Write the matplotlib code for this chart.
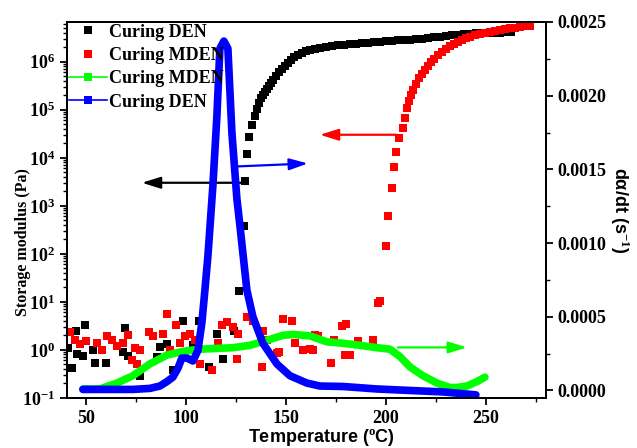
import numpy as np
import matplotlib
matplotlib.use('Agg')
import matplotlib.pyplot as plt
from matplotlib.ticker import MultipleLocator, LogLocator, FuncFormatter, NullFormatter
from matplotlib.lines import Line2D

plt.rcParams['font.family'] = 'Liberation Serif'
plt.rcParams['font.weight'] = 'bold'
plt.rcParams['mathtext.fontset'] = 'custom'
plt.rcParams['mathtext.rm'] = 'Liberation Serif:bold'
plt.rcParams['mathtext.bf'] = 'Liberation Serif:bold'
plt.rcParams['mathtext.it'] = 'Liberation Serif:bold:italic'
plt.rcParams['mathtext.default'] = 'bf'

# storage modulus, Curing DEN (temperature, log10 of modulus in Pa)
den_T = [41, 43, 45, 45.5, 48.5, 49.5, 53.5, 54.5, 60, 68.5, 69.5, 71, 77, 85.5,
         87, 90.5, 93.5, 98.5, 103.5, 106.5, 111.5, 115.5, 118.5, 124, 126.5, 129,
         129.5, 130.5, 131.5, 133, 134.5, 135.5, 136.5, 137.5, 138.5, 139.5, 140.5,
         141.5, 142.5, 143.5, 145, 146.5, 148, 149.5, 151, 152.5, 154, 156, 158,
         160, 162, 164.5, 167, 170, 173, 176, 179, 182, 185, 188, 191, 194, 197,
         200, 203, 206, 209, 212, 215, 218, 221, 224, 227, 230, 233, 236, 239,
         242, 245, 248, 251, 254, 257, 260, 262.5]
den_logE = [0.03, -0.37, 0.40, -0.08, -0.12, 0.51, 0.0, -0.27, -0.27, -0.04, 0.45,
            -0.12, -0.54, -0.14, 0.05, 0.13, -0.43, 0.61, 0.09, 0.61, -0.35, 0.32,
            -0.2, 0.40, 1.22, 2.58, 3.51, 4.07, 4.44, 4.69, 4.88, 5.01, 5.14, 5.24,
            5.31, 5.38, 5.44, 5.50, 5.56, 5.62, 5.70, 5.79, 5.86, 5.92, 5.98, 6.04,
            6.09, 6.14, 6.19, 6.22, 6.25, 6.27, 6.29, 6.31, 6.32, 6.34, 6.35, 6.37,
            6.38, 6.39, 6.40, 6.41, 6.42, 6.43, 6.44, 6.45, 6.45, 6.46, 6.47, 6.48,
            6.50, 6.51, 6.52, 6.54, 6.55, 6.56, 6.57, 6.58, 6.59, 6.60, 6.60, 6.61,
            6.61, 6.62, 6.62]

# storage modulus, Curing MDEN
mden_T = [42, 44.5, 47, 50, 55.5, 58, 60.5, 63, 65.5, 68.5, 71, 73, 74.5, 75.5, 77,
          81.5, 83.5, 88.5, 90.5, 92, 95, 97, 99.5, 102, 104.5, 107, 113, 116, 118,
          120.5, 123.5, 125.5, 126, 130.5, 133.5, 138, 138.5, 140.5, 145.5, 146.5,
          148.5, 153, 154.5, 158.5, 162, 163.5, 164.5, 166, 172.5, 174, 178, 179.5,
          180, 182, 186, 193.5, 196, 197, 200, 201, 203, 204, 205, 206.5, 208.5,
          209.5, 210.5, 211.5, 212.5, 213.5, 215, 216.5, 218, 219.5, 221, 222.5,
          224, 226, 228, 230, 232, 234, 236, 238, 240, 242, 244.5, 247, 249.5, 252,
          254.5, 257, 259.5, 262, 264.5, 267, 269.5, 272]
mden_logE = [0.38, 0.2, 0.13, 0.18, 0.15, 0.0, 0.28, 0.2, 0.08, 0.15, 0.3, -0.22,
             0.04, -0.3, 0.0, 0.38, 0.28, 0.32, 0.74, 0.0, 0.51, 0.15, 0.28, 0.32,
             0.2, -0.3, -0.43, 0.15, 0.51, 0.58, 0.48, -0.19, 0.32, 0.69, 0.61,
             -0.35, 0.40, 0.2, -0.07, -0.05, 0.65, 0.59, 0.15, 0.0, 0.02, 0.0, 0.3,
             0.28, -0.27, 0.2, 0.49, -0.1, 0.54, -0.1, 0.18, 0.2, 0.98, 1.02, 2.17,
             2.79, 3.37, 3.81, 4.13, 4.42, 4.63, 4.83, 5.04, 5.18, 5.30, 5.42, 5.54,
             5.66, 5.75, 5.83, 5.92, 5.99, 6.06, 6.14, 6.21, 6.27, 6.32, 6.37, 6.41,
             6.45, 6.49, 6.52, 6.55, 6.57, 6.59, 6.62, 6.64, 6.66, 6.68, 6.70, 6.71,
             6.73, 6.74, 6.75]

# curing rate, MDEN (right axis)
rate_mden_T = [48.5, 57, 65.5, 73.5, 82, 90.5, 98.5, 107, 115.5, 123.5, 132, 140.5,
               148.5, 153.5, 162, 170.5, 178.5, 187, 195.5, 202, 207, 212, 218.5,
               225.5, 232, 235.5, 240.5, 245.5, 249.5]
rate_mden = [0.00001, 0.00001, 0.00005, 0.0001, 0.00018, 0.00024, 0.000265, 0.00028,
             0.000285, 0.00029, 0.000306, 0.00034, 0.000374, 0.00038, 0.00037,
             0.00033, 0.00032, 0.000306, 0.00029, 0.00028, 0.00023, 0.00016, 0.0001,
             0.00005, 0.00002, 0.00002, 0.00003, 0.00006, 0.00009]

# curing rate, DEN (right axis)
rate_den_T = [48.5, 60, 73.5, 82, 87, 90.5, 93.5, 96, 98, 100.5, 103.5, 106, 108,
              109.5, 111, 113.5, 115.5, 117, 119, 121, 123, 125.5, 127, 130.5, 133.5,
              138.5, 145.5, 152, 160.5, 167, 178.5, 195.5, 212, 228.5, 245]
rate_den = [0.000007, 0.000007, 0.000007, 0.000014, 0.00003, 0.00006, 0.00009,
            0.00015, 0.00022, 0.00022, 0.0002, 0.00027, 0.00046, 0.00068, 0.00091,
            0.00139, 0.00186, 0.00232, 0.00237, 0.00232, 0.00175, 0.0013, 0.00112,
            0.00068, 0.0005, 0.00032, 0.00018, 0.0001, 0.00005, 0.00003, 0.000027,
            0.00001, 0.0, -0.00001, -0.00003]

legend_labels = ['Curing DEN', 'Curing MDEN', 'Curing MDEN', 'Curing DEN']


def log_label(v, pos):
    return '$10^{%d}$' % int(round(np.log10(v)))


fig = plt.figure(figsize=(6.37, 4.48), dpi=100)
ax = fig.add_axes([0.105, 0.112, 0.752, 0.839])
ax2 = ax.twinx()

ax.plot(den_T, 10 ** np.array(den_logE), 's', color='black', ms=5.5, mew=0)
ax.plot(mden_T, 10 ** np.array(mden_logE), 's', color='red', ms=5.5, mew=0)

ax2.plot(rate_mden_T, rate_mden, '-', color='#00ff00', lw=5.5, solid_capstyle='round')
ax2.plot(rate_den_T, rate_den, '-', color='blue', lw=5.5, solid_capstyle='round')

arrow = dict(arrowstyle='-|>,head_length=0.8,head_width=0.25', lw=1.6,
             mutation_scale=14, shrinkA=0, shrinkB=0)
ax.annotate('', xy=(78, 10 ** 3.48), xytext=(129.5, 10 ** 3.48),
            arrowprops=dict(arrow, color='black'))
ax.annotate('', xy=(167, 10 ** 4.48), xytext=(205.5, 10 ** 4.48),
            arrowprops=dict(arrow, color='red'))
ax2.annotate('', xy=(161, 0.00154), xytext=(126, 0.00152),
             arrowprops=dict(arrow, color='blue'))
ax2.annotate('', xy=(240.5, 0.000292), xytext=(206, 0.000292),
             arrowprops=dict(arrow, color='#00ff00'))

ax.set_xlim(40.5, 280)
ax.set_yscale('log')
ax.set_ylim(0.1, 10 ** 6.83)
ax2.set_ylim(-0.00005, 0.0025)

ax.xaxis.set_major_locator(MultipleLocator(50))
ax.xaxis.set_minor_locator(MultipleLocator(25))
ax.yaxis.set_major_locator(LogLocator(base=10, numticks=12))
ax.yaxis.set_minor_locator(LogLocator(base=10, subs=np.arange(2, 10), numticks=12))
ax.yaxis.set_major_formatter(FuncFormatter(log_label))
ax.yaxis.set_minor_formatter(NullFormatter())
ax2.yaxis.set_major_locator(MultipleLocator(0.0005))
ax2.yaxis.set_minor_locator(MultipleLocator(0.00025))
ax2.yaxis.set_major_formatter(FuncFormatter(lambda v, p: '%.4f' % v))

ax.tick_params(axis='both', which='major', direction='out', length=5, width=1.3,
               labelsize=13, top=False)
ax.tick_params(axis='both', which='minor', direction='out', length=3, width=1.0,
               top=False)
ax2.tick_params(axis='y', which='major', direction='out', length=5, width=1.3,
                labelsize=13)
ax2.tick_params(axis='y', which='minor', direction='out', length=3, width=1.0)
for a in (ax, ax2):
    for s in a.spines.values():
        s.set_linewidth(1.4)

ax.set_ylabel('Storage modulus (Pa)', fontsize=11.5, fontweight='bold')
ax.yaxis.set_label_coords(-0.075, 0.415)
ax.set_xlabel('Temperature ($^{\\mathrm{o}}$C)', fontsize=13, fontweight='bold',
              family='Liberation Sans')
ax.xaxis.set_label_coords(0.532, -0.077)
ax2.set_ylabel('d\u03b1/dt (s$^{-1}$)', fontsize=13, fontweight='bold',
               family='Liberation Sans', rotation=-90, va='center', ha='center')
ax2.yaxis.set_label_coords(1.154, 0.5)

handles = [
    Line2D([], [], ls='none', marker='s', color='black', ms=5.5, mew=0),
    Line2D([], [], ls='none', marker='s', color='red', ms=5.5, mew=0),
    Line2D([], [], ls='-', lw=1.2, marker='s', color='#00ff00', ms=5.5, mew=0),
    Line2D([], [], ls='-', lw=1.2, marker='s', color='blue', ms=5.5, mew=0),
]
ax2.legend(handles, legend_labels, loc='upper left', bbox_to_anchor=(0.0, 1.0),
           frameon=False, borderaxespad=0, borderpad=0.1, handlelength=2.1,
           handletextpad=0.15, labelspacing=0.35,
           prop={'family': 'Liberation Serif', 'weight': 'bold', 'size': 13})

fig.savefig('out.png', dpi=100)
